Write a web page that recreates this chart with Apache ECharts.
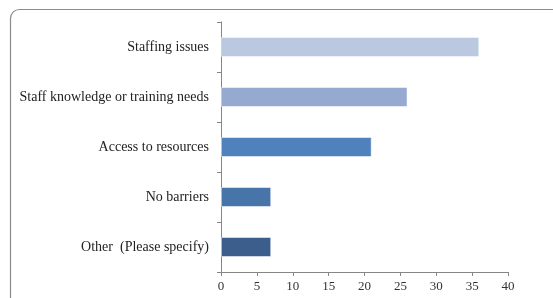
<!DOCTYPE html>
<html>
<head>
<meta charset="utf-8">
<script src="https://cdn.jsdelivr.net/npm/echarts@6/dist/echarts.min.js"></script>
<style>
  html, body { margin: 0; padding: 0; background: #fff; }
  #chart { width: 553px; height: 298px; }
</style>
</head>
<body>
<div id="chart"></div>
<script>
const categories = ['Staffing issues', 'Staff knowledge or training needs', 'Access to resources', 'No barriers', 'Other  (Please specify)'];
const values = [36, 26, 21, 7, 7];
const barColors = ['#bac8e0', '#95a9d1', '#4f81bd', '#4775a9', '#3b5e8c'];

const chart = echarts.init(document.getElementById('chart'));

chart.setOption({
    animation: false,
    graphic: [{
        type: 'rect',
        left: 8,
        top: 7,
        shape: { width: 570, height: 310, r: 9 },
        style: { fill: 'none', stroke: '#8c8c8c', lineWidth: 1.2 }
    }],
    grid: {
        left: 221,
        right: 45,
        top: 22,
        bottom: 26
    },
    xAxis: {
        type: 'value',
        min: 0,
        max: 40,
        interval: 5,
        splitLine: { show: false },
        axisLine: { show: true, lineStyle: { color: '#868686' } },
        axisTick: { show: true, length: 4, lineStyle: { color: '#868686' } },
        axisLabel: {
            color: '#333',
            fontFamily: 'Liberation Serif',
            fontSize: 13,
            margin: 8
        }
    },
    yAxis: {
        type: 'category',
        inverse: true,
        data: categories,
        axisLine: { show: true, lineStyle: { color: '#868686' } },
        axisTick: { show: true, length: 4, lineStyle: { color: '#868686' } },
        axisLabel: {
            color: '#222',
            fontFamily: 'Liberation Serif',
            fontSize: 14,
            margin: 12
        }
    },
    series: [{
        type: 'bar',
        data: values.map((v, i) => ({ value: v, itemStyle: { color: barColors[i] } })),
        barWidth: 20,
        itemStyle: { borderColor: 'rgba(255,255,255,0.5)', borderWidth: 1 }
    }]
});
</script>
</body>
</html>
